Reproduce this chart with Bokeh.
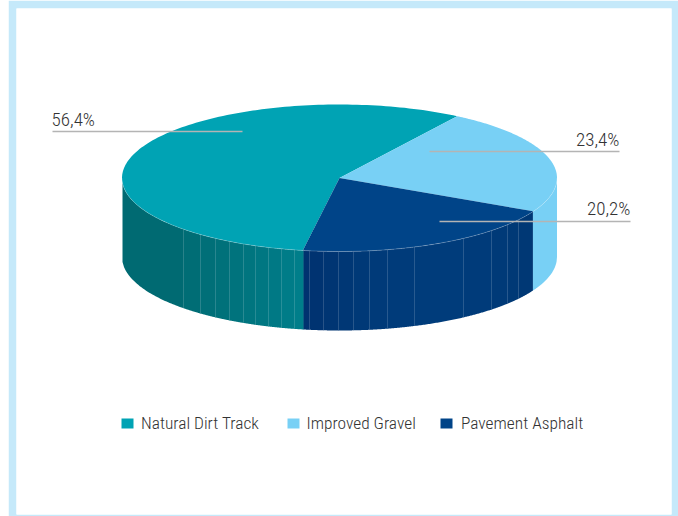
import numpy as np
from bokeh.plotting import figure
from bokeh.embed import file_html
from bokeh.resources import INLINE
from bokeh.core.properties import value

categories = ["Natural Dirt Track", "Improved Gravel", "Pavement Asphalt"]
shares = [56.4, 23.4, 20.2]
share_labels = ["56,4%", "23,4%", "20,2%"]
top_colors = ["#00a3b4", "#78d0f5", "#004488"]

# layout (window pixels)
CX, CY, RX, RY, DEPTH = 339.0, 177.5, 217.5, 73.5, 79.0
START = 260.3
leader_x0 = [52, 429, 439]
leader_x1 = [242, 619, 630]
leader_y = [131, 151, 221]
label_x = [51, 619, 630]
label_y = [119, 139, 208]
label_align = ["left", "right", "right"]
legend_sq_x = [127, 293, 446]
legend_tx = [140.5, 306, 460.5]
LEG_Y = 422.5
FONT = "Roboto Condensed Light, Roboto Condensed, Roboto"

teal_edges = [122, 183, 200, 215, 229, 243, 255, 268, 281, 294, 303]
teal_cols = ["#006a72", "#006d75", "#006f78", "#00717a", "#00737d", "#00757f", "#007782", "#007985", "#007c88", "#007e8a"]
navy_edges = [303, 309, 323, 338, 353, 369, 387, 414, 463, 491, 507, 518, 532]
navy_cols = ["#00326f", "#003371", "#003573", "#003775", "#003977", "#003a79", "#003b7a", "#003c7b", "#003b7a", "#003a78", "#003976", "#003875"]

p = figure(width=670, height=516, output_backend="svg", toolbar_location=None,
           x_range=(16, 671), y_range=(514, 8), min_border_left=8, min_border_right=7,
           min_border_top=8, min_border_bottom=2, x_axis_location=None, y_axis_location=None,
           background_fill_color="#ffffff", border_fill_color="#c5e9fa", outline_line_color=None,
           margin=(0, 0, 0, 8))
p.grid.visible = False

def ell(deg):
    r = np.radians(deg)
    return CX + RX * np.cos(r), CY - RY * np.sin(r)

def front_y(x):
    return CY + RY * np.sqrt(np.clip(1 - ((x - CX) / RX) ** 2, 0, 1))

# side wall: light blue part, then strips
xs = np.linspace(navy_edges[-1], CX + RX, 60)
p.patch(list(xs) + list(xs[::-1]), list(front_y(xs)) + list(front_y(xs[::-1]) + DEPTH),
        fill_color=top_colors[1], line_color=None)

for edges, cols in ((teal_edges, teal_cols), (navy_edges, navy_cols)):
    for a, b, c in zip(edges[:-1], edges[1:], cols):
        xs = np.linspace(a, b + 0.4, 40)
        p.patch(list(xs) + list(xs[::-1]), list(front_y(xs)) + list(front_y(xs[::-1]) + DEPTH),
                fill_color=c, line_color=None)
    for e in edges[1:-1]:
        p.segment(e, front_y(np.array(e, float)), e, front_y(np.array(e, float)) + DEPTH,
                  line_color="#ffffff", line_alpha=0.15, line_width=0.8)

# top slices
angles = START - np.cumsum([0] + shares) * 3.6
for i in range(3):
    t = np.linspace(angles[i], angles[i + 1], 160)
    ex, ey = ell(t)
    p.patch([CX] + list(ex), [CY] + list(ey), fill_color=top_colors[i], line_color=None)

# thin pale rim along the top's front edge
t = np.linspace(180, 360, 240)
rx, ry = ell(t)
p.line(rx, ry, line_color="#ffffff", line_alpha=0.3, line_width=0.7)

# leader lines and labels
p.segment(leader_x0, leader_y, leader_x1, leader_y, line_color="#b4b4b4", line_width=1.3)
for i in range(3):
    p.text([label_x[i]], [label_y[i]], text=[share_labels[i]], text_align=label_align[i],
           text_baseline="middle", text_font=value(FONT),
           text_font_size="19px", text_color="#333333")

# legend
for i in range(3):
    p.rect([legend_sq_x[i]], [423], width=12, height=10, fill_color=top_colors[i], line_color=None)
    p.text([legend_tx[i]], [LEG_Y], text=[categories[i]], text_align="left",
           text_baseline="middle", text_font=value(FONT),
           text_font_size="17.4px", text_color="#333333")

open("out.html", "w").write(file_html(p, INLINE))
